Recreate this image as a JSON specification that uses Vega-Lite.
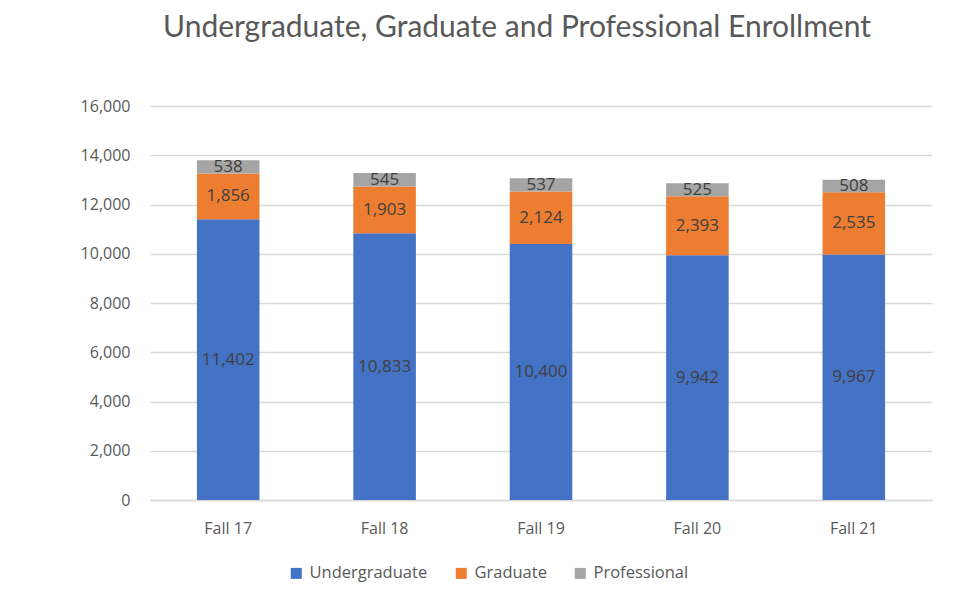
{
  "$schema": "https://vega.github.io/schema/vega-lite/v6.json",
  "width": 782,
  "height": 394,
  "autosize": {"type": "none"},
  "padding": {"left": 150, "top": 106, "right": 24, "bottom": 102},
  "background": "white",
  "title": {
    "text": "Undergraduate, Graduate and Professional Enrollment",
    "fontSize": 30,
    "font": "Lato",
    "fontWeight": "normal",
    "color": "#595959",
    "anchor": "middle",
    "dx": -24,
    "offset": 55
  },
  "data": {
    "values": [
      {"term": "Fall 17", "level": "Undergraduate", "ord": 1, "count": 11402},
      {"term": "Fall 17", "level": "Graduate", "ord": 2, "count": 1856},
      {"term": "Fall 17", "level": "Professional", "ord": 3, "count": 538},
      {"term": "Fall 18", "level": "Undergraduate", "ord": 1, "count": 10833},
      {"term": "Fall 18", "level": "Graduate", "ord": 2, "count": 1903},
      {"term": "Fall 18", "level": "Professional", "ord": 3, "count": 545},
      {"term": "Fall 19", "level": "Undergraduate", "ord": 1, "count": 10400},
      {"term": "Fall 19", "level": "Graduate", "ord": 2, "count": 2124},
      {"term": "Fall 19", "level": "Professional", "ord": 3, "count": 537},
      {"term": "Fall 20", "level": "Undergraduate", "ord": 1, "count": 9942},
      {"term": "Fall 20", "level": "Graduate", "ord": 2, "count": 2393},
      {"term": "Fall 20", "level": "Professional", "ord": 3, "count": 525},
      {"term": "Fall 21", "level": "Undergraduate", "ord": 1, "count": 9967},
      {"term": "Fall 21", "level": "Graduate", "ord": 2, "count": 2535},
      {"term": "Fall 21", "level": "Professional", "ord": 3, "count": 508}
    ]
  },
  "transform": [
    {"stack": "count", "groupby": ["term"], "sort": [{"field": "ord", "order": "ascending"}], "as": ["y0", "y1"]},
    {"calculate": "(datum.y0 + datum.y1) / 2", "as": "ymid"}
  ],
  "encoding": {
    "x": {
      "field": "term",
      "type": "nominal",
      "title": null,
      "scale": {"paddingInner": 0.6, "paddingOuter": 0.3},
      "axis": {
        "labelAngle": 0,
        "labelFont": "Open Sans",
        "labelFontSize": 16,
        "labelColor": "#595959",
        "labelPadding": 20,
        "ticks": false,
        "domainColor": "#d9d9d9",
        "domainWidth": 1.5
      }
    }
  },
  "layer": [
    {
      "mark": {"type": "bar"},
      "encoding": {
        "y": {
          "field": "y1",
          "type": "quantitative",
          "title": null,
          "scale": {"domain": [0, 16000]},
          "axis": {
            "values": [0, 2000, 4000, 6000, 8000, 10000, 12000, 14000, 16000],
            "format": ",.0f",
            "labelFont": "Open Sans",
            "labelFontSize": 16,
            "labelColor": "#595959",
            "labelPadding": 20,
            "labelOverlap": false,
            "ticks": false,
            "domain": false,
            "gridColor": "#d9d9d9",
            "gridWidth": 1.5
          }
        },
        "y2": {"field": "y0"},
        "color": {
          "field": "level",
          "type": "nominal",
          "sort": ["Undergraduate", "Graduate", "Professional"],
          "scale": {"domain": ["Undergraduate", "Graduate", "Professional"], "range": ["#4472C4", "#ED7D31", "#A5A5A5"]},
          "legend": {
            "title": null,
            "orient": "none",
            "legendX": 138,
            "legendY": 459,
            "direction": "horizontal",
            "symbolType": "square",
            "symbolSize": 121,
            "symbolStrokeWidth": 0,
            "labelFont": "Open Sans",
            "labelFontSize": 16.5,
            "labelColor": "#595959",
            "columnPadding": 25,
            "labelOffset": 5
          }
        }
      }
    },
    {
      "mark": {"type": "text", "font": "Open Sans", "fontSize": 17, "color": "#404040", "baseline": "middle", "align": "center"},
      "encoding": {
        "y": {
          "field": "ymid",
          "type": "quantitative",
          "title": null,
          "scale": {"domain": [0, 16000]},
          "axis": {
            "values": [0, 2000, 4000, 6000, 8000, 10000, 12000, 14000, 16000],
            "format": ",.0f",
            "labelFont": "Open Sans",
            "labelFontSize": 16,
            "labelColor": "#595959",
            "labelPadding": 20,
            "labelOverlap": false,
            "ticks": false,
            "domain": false,
            "gridColor": "#d9d9d9",
            "gridWidth": 1.5
          }
        },
        "text": {"field": "count", "type": "quantitative", "format": ","}
      }
    }
  ],
  "config": {"view": {"stroke": null}}
}
